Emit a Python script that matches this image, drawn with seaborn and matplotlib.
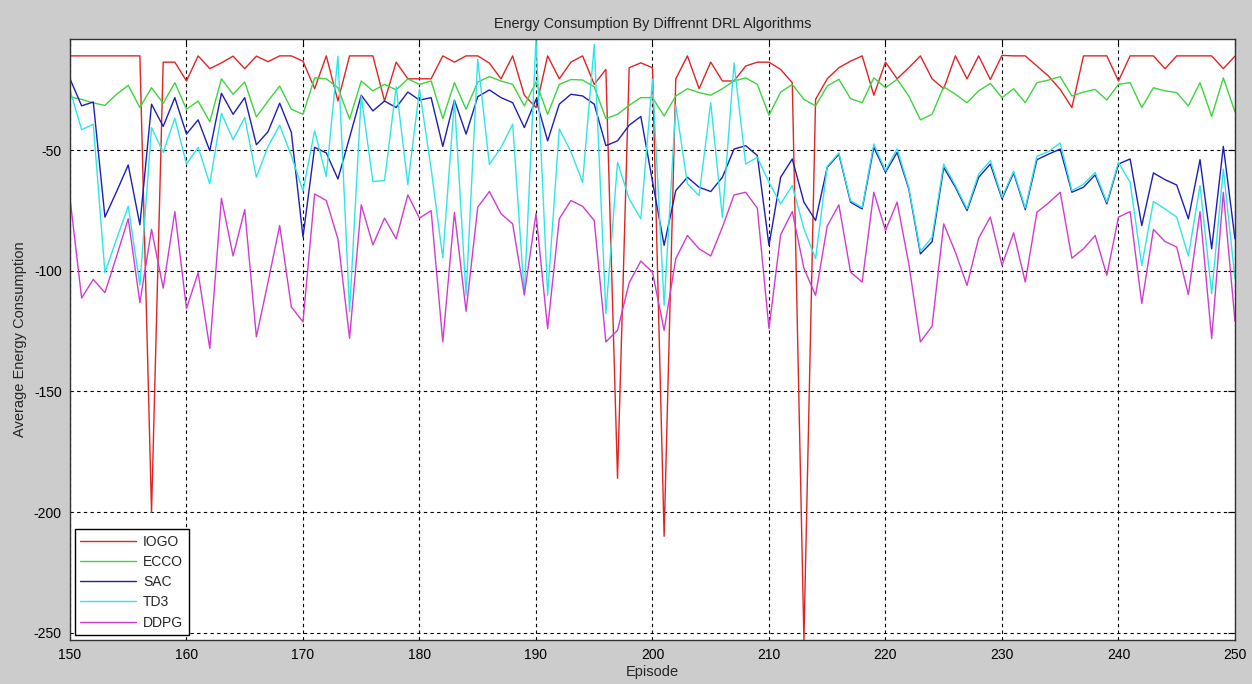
import matplotlib
matplotlib.use("Agg")
import matplotlib.pyplot as plt
import seaborn as sns
import pandas as pd

# Episodes shown on the x axis
episodes = list(range(150, 251))

# Average energy consumption per algorithm
iogo = [-11, -11, -11, -11, -11, -11, -11, -200, -13.6, -13.6,
        -21.4, -11, -16.3, -13.9, -11.1, -16.3, -11.1, -13.4, -11, -11,
        -13.2, -24.6, -11, -29.7, -11, -11, -11, -29.7, -13.6, -20.5,
        -20.5, -20.5, -11, -13.6, -11, -11, -14, -20.5, -11, -27.3,
        -32.4, -11, -20.5, -13.6, -11, -22.8, -16.6, -186, -15.9, -13.9,
        -15.9, -210, -20.5, -11, -24.6, -13.6, -21.4, -21.4, -15.2, -13.6,
        -13.6, -16.6, -22.1, -253, -29, -20.5, -15.9, -13.2, -11, -27.3,
        -13.6, -20.5, -15.9, -11, -20.5, -24.6, -11, -20.5, -11, -20.8,
        -10.8, -11, -11, -15.2, -19.4, -24.9, -32.4, -11, -11, -11,
        -21.4, -11, -11, -11, -16.3, -11, -11, -11, -11, -16.3,
        -11.1]

ecco = [-28, -29, -30.5, -31.5, -26.9, -23.2, -32.4, -24.2, -30.6, -22.1,
        -33.1, -29.7, -38.3, -20.5, -26.9, -21.8, -36.3, -29.7, -23.5, -33.1,
        -35.2, -20.1, -20.5, -24.2, -37.2, -21.4, -25.5, -22.8, -25.1, -20.5,
        -22.8, -21.4, -37, -22.1, -33.1, -21.8, -19.6, -21.4, -22.8, -31.7,
        -21.8, -35.2, -22.8, -20.8, -21, -23.8, -37, -35.2, -31.5, -28.3,
        -28.3, -35.9, -27.6, -24.6, -26.2, -27.3, -24.6, -21.4, -20.1, -22.8,
        -35.6, -26, -22.8, -29, -31.7, -23.5, -20.7, -28.7, -30.4, -20.1,
        -24.2, -20.7, -27.6, -37.5, -35.2, -23.8, -26.9, -30.4, -25.5, -22.4,
        -28.3, -24.6, -30.4, -22.1, -21, -19.6, -27.6, -26, -24.9, -29.3,
        -22.8, -22.1, -32.4, -24.2, -25.5, -26.2, -31.7, -22.1, -36.1, -20.1,
        -34.2]

sac = [-20.5, -31.7, -30.1, -77.8, -67.2, -56.2, -81, -31, -40.2, -28.3,
       -43.4, -37.5, -50.3, -26.5, -35.2, -28.3, -47.8, -42.4, -30.6, -42.7,
       -86, -48.9, -51.2, -62, -44.8, -27.3, -33.8, -29.7, -32.4, -26,
       -29.3, -28.3, -48.5, -29.3, -43.4, -27.9, -25.1, -28.3, -30.4, -40.7,
       -29, -46.2, -31, -26.9, -27.6, -31, -48.2, -46.2, -39.7, -36.1,
       -63, -89.5, -66.8, -61.3, -65.4, -67.2, -61.3, -49.6, -48.2, -52.3,
       -89.5, -61.3, -53.7, -71.6, -79.2, -57.2, -51.7, -71.6, -74.4, -48.9,
       -59.2, -51, -66.1, -93, -88, -57.2, -65.4, -75.1, -61.3, -55.8,
       -70.2, -59.5, -74.7, -54, -51.7, -49.6, -67.5, -65.4, -60.3, -72.3,
       -55.8, -53.7, -81.3, -59.5, -62.3, -64.5, -78.5, -54, -90.9, -48.5,
       -86.8]

td3 = [-25.1, -41.6, -39.3, -100.8, -86.8, -73.3, -106, -40.7, -51, -36.8,
       -55.8, -48.9, -64, -34.8, -45.7, -36.5, -61.3, -48.5, -39.7, -52.3,
       -67, -42, -61, -11.1, -117, -27.6, -63, -62.7, -23.8, -64.3,
       -24.9, -57.8, -94.6, -29.3, -110.2, -12.5, -56, -48.9, -39.3, -110.2,
       -4, -110.2, -41.3, -50.7, -63.4, -6.3, -117.8, -55.1, -70.2, -78.5,
       -20.7, -114.3, -31.5, -64, -68.9, -30.4, -78, -13.9, -55.8, -53,
       -63.4, -72.3, -64.7, -82.6, -95, -56.8, -51.2, -71, -73.8, -47.5,
       -58.6, -49.5, -65.5, -92, -86.1, -55.8, -64.7, -74.4, -59.9, -54.4,
       -69.6, -58.8, -74, -52.6, -50.6, -47.1, -66.8, -64.2, -59.3, -71.6,
       -55.1, -63.4, -97.8, -71.3, -74.4, -77.8, -93.9, -64.7, -109.5, -57.9,
       -103.3]

ddpg = [-70, -111.3, -103.6, -109.1, -94, -78.5, -113.2, -82.9, -107.2, -75.5,
        -115.7, -100.8, -132.2, -70, -93.9, -74.7, -127.4, -104.7, -81.3, -115,
        -121.2, -68.2, -70.9, -86.8, -128, -72.7, -89.3, -78.2, -86.8, -68.6,
        -78.2, -75.1, -129.5, -75.8, -116.8, -73.7, -67.2, -76.4, -80.6, -109.9,
        -76.4, -124, -78.5, -70.9, -73.3, -79.2, -129.5, -124.7, -105, -96,
        -100.6, -124.7, -95, -85.4, -90.9, -93.9, -82, -68.6, -67.5, -74.1,
        -124, -85.1, -75.5, -99, -110.2, -81.5, -72.7, -100.6, -104.7, -67.5,
        -83.3, -71.6, -97.1, -129.5, -123, -80.6, -92.3, -106.1, -86.5, -77.8,
        -97.8, -84.3, -104.7, -75.8, -71.9, -67.5, -94.8, -90.9, -85.4, -101.9,
        -77.8, -75.5, -113.6, -82.9, -87.9, -90.2, -109.9, -75.5, -128.1, -67.5,
        -120.9]

algorithms = ["IOGO", "ECCO", "SAC", "TD3", "DDPG"]
colors = ["#E02424", "#3DD43D", "#1E1EB4", "#2EE6E6", "#D03CD0"]
x_ticks = list(range(150, 251, 10))
y_ticks = [-250, -200, -150, -100, -50]


def build_frame():
    series = [iogo, ecco, sac, td3, ddpg]
    parts = []
    for name, values in zip(algorithms, series):
        parts.append(pd.DataFrame({"Episode": episodes, "Energy": values,
                                   "Algorithm": name}))
    return pd.concat(parts, ignore_index=True)


def draw_chart():
    sns.set_style("white")
    plt.rcParams["font.family"] = ["Liberation Sans", "DejaVu Sans"]
    plt.rcParams["axes.unicode_minus"] = False

    fig = plt.figure(figsize=(12.52, 6.84), dpi=100, facecolor="#CCCCCC")
    ax = fig.add_axes([0.0559, 0.0643, 0.9305, 0.8787])
    ax.set_facecolor("white")

    sns.lineplot(data=build_frame(), x="Episode", y="Energy", hue="Algorithm",
                 hue_order=algorithms, palette=dict(zip(algorithms, colors)),
                 estimator=None, linewidth=1.0, ax=ax)

    ax.set_xlim(150, 250)
    ax.set_ylim(-253, -4)
    ax.set_xticks(x_ticks)
    ax.set_yticks(y_ticks)
    ax.grid(True, color="black", linestyle=(0, (3, 3)), linewidth=0.8)
    ax.tick_params(direction="in", length=5, width=0.8, colors="black",
                   labelsize=10, top=True, right=True, pad=6)
    for spine in ax.spines.values():
        spine.set_color("#333333")
        spine.set_linewidth(1.0)

    ax.set_title("Energy Consumption By Diffrennt DRL Algorithms",
                 fontsize=10.4, color="#222222", pad=8)
    ax.set_xlabel("Episode", fontsize=10.5, labelpad=2)
    ax.set_ylabel("Average Energy Consumption", fontsize=10.5, labelpad=5)

    leg = ax.legend(loc="lower left", fontsize=10, fancybox=False,
                    edgecolor="black", framealpha=1, borderaxespad=0.35,
                    handlelength=4.0, labelspacing=0.45, handletextpad=0.5,
                    borderpad=0.4)
    leg.get_frame().set_linewidth(1.0)
    for line in leg.get_lines():
        line.set_linewidth(1.0)

    plt.savefig("out.png", dpi=100, facecolor=fig.get_facecolor())


if __name__ == "__main__":
    draw_chart()
